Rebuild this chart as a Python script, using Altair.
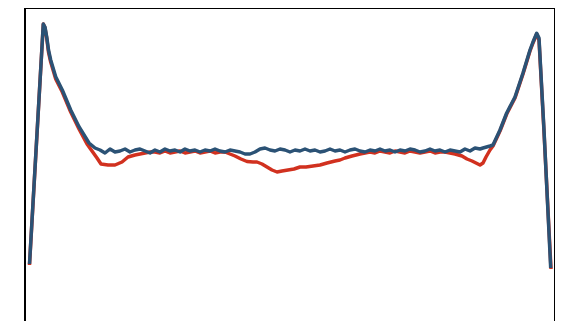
import altair as alt
import pandas as pd

# Blue series (position, value)
blue_x = [4.5, 18.3, 20, 21.7, 23.5, 25.7, 30.7, 37.3, 45.7, 54, 64,
          70, 75, 80, 85, 90, 95, 100, 105, 110, 115, 120, 125, 130, 135, 140, 145,
          150, 155, 160, 165, 170, 175, 180, 185, 190, 195, 200, 205, 210, 215, 220,
          225, 230, 235, 240, 245, 250, 255, 260, 265, 270, 275, 280, 285, 290, 295,
          300, 305, 310, 315, 320, 325, 330, 335, 340, 345, 350, 355, 360, 365, 370,
          375, 380, 385, 390, 395, 400, 405, 410, 415, 420, 425, 430, 435, 440, 445,
          450, 455, 458, 465, 468, 475, 481.7, 490, 498, 505, 508, 511.7, 514, 519, 525.7]
blue_y = [36, 276, 273, 263.3, 250, 240, 223.3, 210, 190, 173.3, 157,
          152, 150, 147, 151, 148, 149, 151, 148, 150, 151, 149, 147, 150, 148, 151, 149,
          150, 148, 151, 149, 150, 148, 150, 149, 151, 149, 148, 150, 149, 148, 146,
          146, 148, 151, 152, 150, 149, 151, 150, 148, 150, 149, 151, 149, 150, 148,
          149, 151, 149, 150, 148, 150, 151, 149, 148, 150, 149, 151, 149, 150, 148,
          150, 149, 151, 150, 148, 149, 151, 149, 150, 148, 150, 149, 148, 151, 149,
          152, 151, 152, 154, 155, 170, 187, 203, 227, 250, 258, 266.7, 262, 170, 32]

# Red series (position, value)
red_x = [4.5, 18.3, 20, 21.7, 23.5, 25.7, 30.7, 37.3, 45.7, 54, 62, 67, 72, 76, 83,
         90, 97, 103, 110, 115, 120, 125, 130, 135, 140, 145, 150, 155, 160, 165, 170,
         175, 180, 185, 190, 195, 200, 205, 210, 216, 222, 228, 232, 237, 242, 247,
         252, 257, 263, 269, 275, 281, 288, 295, 302, 310, 315, 320, 327, 335, 340,
         345, 350, 355, 360, 365, 370, 375, 380, 385, 390, 395, 400, 405, 410, 415,
         420, 425, 430, 437, 442, 447, 451, 455, 458, 461, 465, 468, 475, 481.7, 490,
         498, 505, 508, 511.7, 514, 519, 526]
red_y = [35, 276, 272, 262, 248, 238, 221, 208, 188, 171, 156, 149, 142, 136, 135,
         135, 138, 143, 145, 146, 147, 148, 148, 147, 149, 147, 148, 149, 147, 148, 149,
         147, 148, 149, 147, 148, 148, 146, 144, 141, 138.5, 138, 138, 136, 133, 130,
         128, 129, 130, 131, 133, 133, 134, 135, 137, 139, 140, 142, 144, 146, 147,
         148, 147, 149, 148, 147, 149, 148, 147, 149, 148, 147, 148, 149, 147, 148,
         148, 147, 146, 144, 141, 139, 137, 135, 137, 143, 150, 154, 169, 186, 202,
         226, 249, 257, 266, 260, 168, 31]

blue = pd.DataFrame({"x": blue_x, "y": blue_y})
red = pd.DataFrame({"x": red_x, "y": red_y})

xs = alt.X("x:Q", axis=None, scale=alt.Scale(domain=[0, 530], nice=False, zero=False))
ys = alt.Y("y:Q", axis=None, scale=alt.Scale(domain=[-48, 292], nice=False, zero=False))

red_line = alt.Chart(red).mark_line(color="#d1311f", strokeWidth=3.5, strokeJoin="round").encode(x=xs, y=ys)
blue_line = alt.Chart(blue).mark_line(color="#2b5275", strokeWidth=3.5, strokeJoin="round").encode(x=xs, y=ys)

chart = alt.layer(red_line, blue_line).properties(
    width=530, height=340,
    autosize=alt.AutoSizeParams(type="none"),
    padding={"left": 17, "top": 0, "right": 0, "bottom": 0},
).configure_view(stroke="black", strokeWidth=2)

chart.save("out.html", embed_options={"renderer": "svg", "actions": False})
